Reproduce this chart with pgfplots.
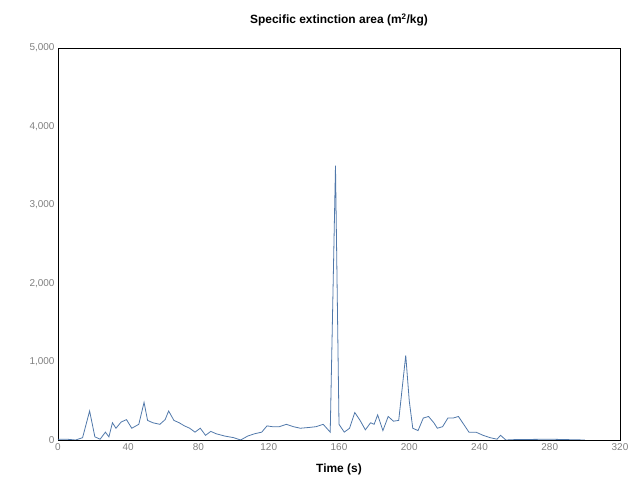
\documentclass[border=0pt]{standalone}
\usepackage{pgfplots}
\pgfplotsset{compat=1.18}
\usepackage{fontspec}
\setmainfont{Liberation Sans}
\begin{document}
\begin{tikzpicture}
\useasboundingbox (-58bp,-46bp) rectangle (576bp,440bp);
\begin{axis}[at={(0,0)},anchor=south west,width=562bp,height=392bp,scale only axis,
  xmin=0,xmax=320,ymin=0,ymax=5000,
  xtick={0,40,...,320},ytick={0,1000,...,5000},
  /pgf/number format/assume math mode=true,
  yticklabel style={/pgf/number format/1000 sep={,},font=\normalsize,text=gray},
  xticklabel style={font=\normalsize,text=gray},
  scaled y ticks=false,
  title style={yshift=12bp},
  title={\large\textbf{Specific extinction area (m\textsuperscript{2}/kg)}},
  xlabel={\large\textbf{Time (s)}},
  xlabel style={yshift=-6bp},
  tick style={draw=none},
  axis line style={thick}]
\addplot[color={rgb,255:red,80;green,120;blue,170},line width=0.8pt] coordinates {
(0,10)(5,10)(10,0)(14,30)(18,370)(21,40)(24,10)(27,100)(29,40)(31,220)(33,150)(36,230)(39,260)(42,150)(46,200)(49,480)(51,250)(54,220)(58,200)(61,260)(63,370)(66,250)(69,220)(72,180)(75,150)(78,100)(81,150)(84,60)(87,110)(90,80)(95,50)(100,30)(104,0)(108,50)(112,80)(116,100)(119,180)(122,170)(126,170)(130,200)(134,170)(138,150)(143,160)(147,170)(151,200)(155,100)(158,3500)(160,200)(163,100)(166,150)(169,350)(172,250)(175,130)(178,220)(180,200)(182,320)(185,120)(188,300)(191,240)(194,250)(198,1080)(200,500)(202,150)(205,120)(208,280)(211,300)(214,220)(216,150)(219,170)(222,280)(225,280)(228,300)(231,200)(234,100)(238,100)(242,60)(246,30)(250,10)(252,60)(255,0)(260,5)(280,10)(300,0)};
\end{axis}
\end{tikzpicture}
\end{document}
